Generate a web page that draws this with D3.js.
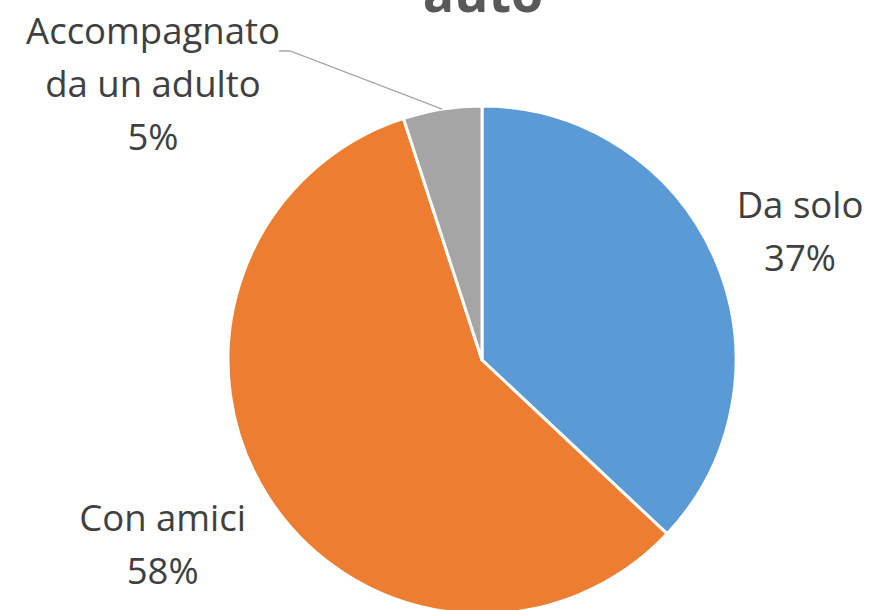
<!DOCTYPE html>
<html lang="it">
<head>
<meta charset="utf-8">
<title>auto</title>
<style>
    body { margin: 0; background: #fff; }
    svg text { font-family: "Open Sans", "Noto Sans", sans-serif; fill: #404040; }
</style>
</head>
<body>
<svg id="chart" width="871" height="610"></svg>
<script src="https://cdn.jsdelivr.net/npm/d3@7/dist/d3.min.js"></script>
<script>
    // data
    var categories = ["Da solo", "Con amici", "Accompagnato da un adulto"];
    var values = [37, 58, 5];
    var colors = ["#5B9BD5", "#ED7D31", "#A5A5A5"];
    var titleText = "auto";

    var w = 871, h = 610;
    var cx = 482, cy = 360, r = 254;

    var svg = d3.select("#chart");

    // title (cut off at the top in the original)
    svg.append("text")
        .attr("x", 483)
        .attr("y", 12)
        .attr("text-anchor", "middle")
        .attr("font-size", "52px")
        .attr("font-weight", "bold")
        .style("fill", "#595959")
        .text(titleText);

    var data = categories.map(function(c, i) {
        return { name: c, value: values[i], color: colors[i] };
    });

    var pie = d3.pie()
        .sort(null)
        .value(function(d) { return d.value; });

    var arc = d3.arc().innerRadius(0).outerRadius(r);

    var g = svg.append("g").attr("transform", "translate(" + cx + "," + cy + ")");
    var arcs = pie(data);

    g.selectAll("path")
        .data(arcs)
        .enter()
        .append("path")
        .attr("d", arc)
        .attr("fill", function(d) { return d.data.color; })
        .attr("stroke", "#fff")
        .attr("stroke-width", 3)
        .attr("stroke-linejoin", "round");

    var total = d3.sum(values);

    // label radius, nudges and line breaks per slice
    var labelR = [340, 370, 0];
    var nudge = [[6, 10], [-7, -11], [0, 0]];
    var lines = [["Da solo"], ["Con amici"], ["Accompagnato", "da un adulto"]];
    var lh = 53;

    arcs.forEach(function(a, i) {
        var mid = (a.startAngle + a.endAngle) / 2;
        var rows = lines[i].concat([Math.round(a.data.value / total * 100) + "%"]);
        var bx, by;
        if (i === 2) {
            bx = 153 - cx; by = 44 - cy;   // top-left label with leader line
        } else {
            bx = Math.sin(mid) * labelR[i] + nudge[i][0];
            by = -Math.cos(mid) * labelR[i] + nudge[i][1] - (rows.length - 1) * lh / 2 + 10;
        }
        var t = g.append("text")
            .attr("text-anchor", "middle")
            .attr("font-size", "36.5px");
        rows.forEach(function(s, k) {
            t.append("tspan")
                .attr("x", bx)
                .attr("y", by + k * lh)
                .text(s);
        });
    });

    // leader line for the small slice
    var small = arcs[2];
    var p = d3.arc().innerRadius(r).outerRadius(r).centroid(small);
    g.append("polyline")
        .attr("points", [[279 - cx, 51 - cy], [290 - cx, 51 - cy], p].map(function(q) { return q.join(","); }).join(" "))
        .attr("fill", "none")
        .attr("stroke", "#A6A6A6")
        .attr("stroke-width", 1.3);
</script>
</body>
</html>
